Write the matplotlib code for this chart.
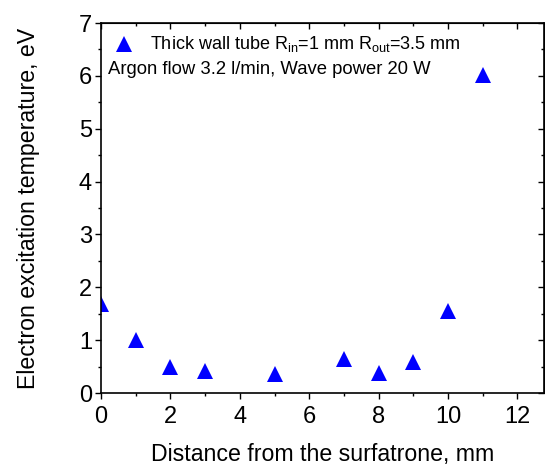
import matplotlib
matplotlib.use("Agg")
import matplotlib.pyplot as plt
from matplotlib.ticker import MultipleLocator

plt.rcParams['font.family'] = ['Liberation Sans', 'DejaVu Sans']
plt.rcParams['mathtext.fontset'] = 'custom'
plt.rcParams['mathtext.rm'] = 'Liberation Sans'
plt.rcParams['mathtext.it'] = 'Liberation Sans:italic'

distance_mm = [0, 1, 2, 3, 5, 7, 8, 9, 10, 11]
temperature_eV = [1.68, 1.01, 0.50, 0.42, 0.36, 0.64, 0.37, 0.59, 1.55, 6.01]

fig = plt.figure(figsize=(5.45, 4.65), dpi=100)
ax = fig.add_axes([0.1853, 0.1548, 0.812, 0.7957])

ax.plot(distance_mm, temperature_eV, linestyle='none', marker='^',
        color='#0000ff', markersize=11, markeredgewidth=0)

ax.set_xlim(0, 12.75)
ax.set_ylim(0, 7)
ax.xaxis.set_major_locator(MultipleLocator(2))
ax.xaxis.set_minor_locator(MultipleLocator(1))
ax.yaxis.set_major_locator(MultipleLocator(1))
ax.yaxis.set_minor_locator(MultipleLocator(0.5))

ax.tick_params(axis='both', which='major', direction='out', length=4.5, width=1,
               labelsize=17, top=False, right=False)
ax.tick_params(axis='both', which='minor', direction='out', length=2.5, width=1,
               top=False, right=False)
ax.tick_params(axis='x', which='major', pad=5)
ax.tick_params(axis='y', which='major', pad=2)

# secondary ticks on top/right pointing inwards
axt = ax.secondary_xaxis('top')
axt.xaxis.set_major_locator(MultipleLocator(2))
axt.xaxis.set_minor_locator(MultipleLocator(1))
axt.tick_params(which='major', direction='in', length=4.5, width=1, labeltop=False)
axt.tick_params(which='minor', direction='in', length=2.5, width=1)
axr = ax.secondary_yaxis('right')
axr.yaxis.set_major_locator(MultipleLocator(1))
axr.yaxis.set_minor_locator(MultipleLocator(0.5))
axr.tick_params(which='major', direction='in', length=4.5, width=1, labelright=False)
axr.tick_params(which='minor', direction='in', length=2.5, width=1)

for s in ax.spines.values():
    s.set_linewidth(1.2)

ax.set_xlabel('Distance from the surfatrone, mm', fontsize=16.7, labelpad=10.5)
ax.set_ylabel('Electron excitation temperature, eV', fontsize=16.7, labelpad=28)

ax.plot([0.65], [6.6], linestyle='none', marker='^', color='#0000ff',
        markersize=11, markeredgewidth=0, clip_on=False)
ax.text(1.4, 6.6, r'Thick wall tube R$_{\rm in}$=1 mm R$_{\rm out}$=3.5 mm',
        fontsize=13, va='center', ha='left')
ax.text(0.2, 6.12, 'Argon flow 3.2 l/min, Wave power 20 W',
        fontsize=13.3, va='center', ha='left')

fig.savefig('out.png', dpi=100)
